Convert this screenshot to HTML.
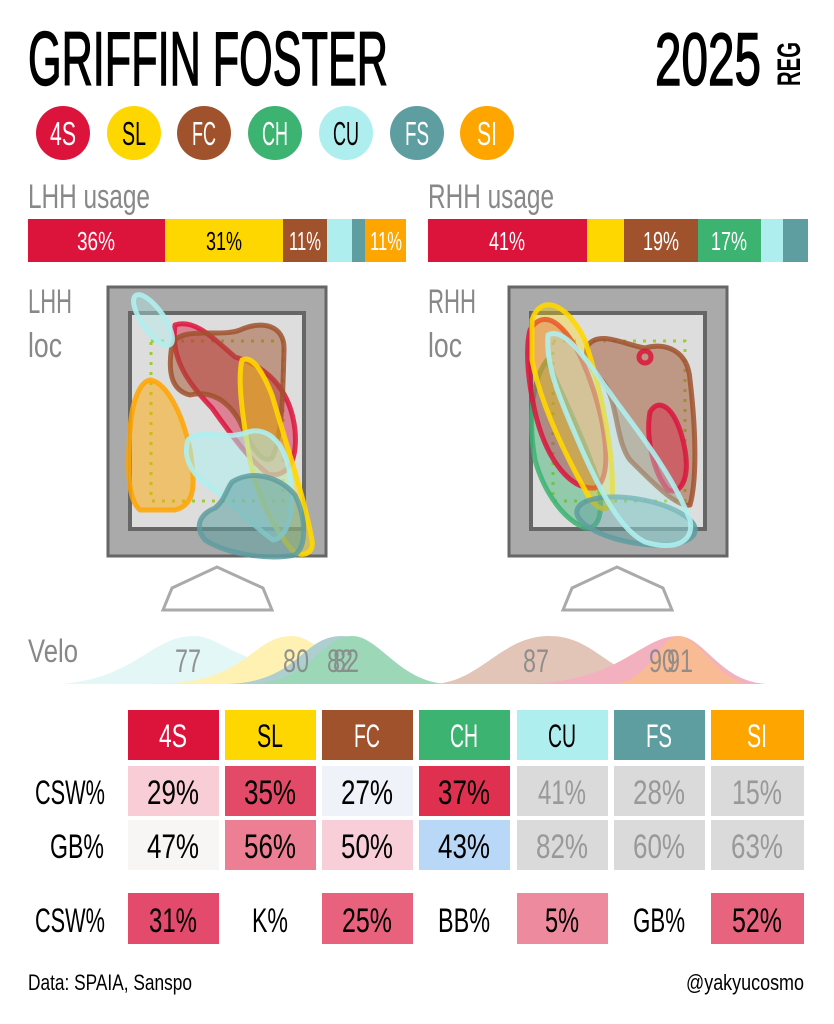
<!DOCTYPE html>
<html><head><meta charset="utf-8"><style>
html,body{margin:0;padding:0;background:#fff;}
svg{display:block;}
text{font-family:"Liberation Sans Narrow","Liberation Sans",sans-serif;}
</style></head><body>
<svg width="834" height="1024" viewBox="0 0 834 1024" xmlns="http://www.w3.org/2000/svg">
<rect width="834" height="1024" fill="#fff"/>
<!-- title -->
<text x="28" y="85" font-size="76" textLength="360" lengthAdjust="spacingAndGlyphs" fill="#000" stroke="#000" stroke-width="1.5">GRIFFIN FOSTER</text>
<text x="655" y="85" font-size="74" textLength="106" lengthAdjust="spacingAndGlyphs" fill="#000" stroke="#000" stroke-width="1.5">2025</text>
<text transform="translate(800,86) rotate(-90)" x="0" y="0" font-size="32" font-weight="bold" textLength="44" lengthAdjust="spacingAndGlyphs" fill="#000">REG</text>
<!-- pitch circles -->
<g font-size="33" text-anchor="middle">
<circle cx="63" cy="133" r="27" fill="#dc143c"/><text x="63" y="145" fill="#fff" textLength="26" lengthAdjust="spacingAndGlyphs">4S</text>
<circle cx="134" cy="133" r="27" fill="#ffd700"/><text x="134" y="145" fill="#000" textLength="24" lengthAdjust="spacingAndGlyphs">SL</text>
<circle cx="204" cy="133" r="27" fill="#a0522d"/><text x="204" y="145" fill="#fff" textLength="24" lengthAdjust="spacingAndGlyphs">FC</text>
<circle cx="275" cy="133" r="27" fill="#3cb371"/><text x="275" y="145" fill="#fff" textLength="26" lengthAdjust="spacingAndGlyphs">CH</text>
<circle cx="346" cy="133" r="27" fill="#afeeee"/><text x="346" y="145" fill="#000" textLength="26" lengthAdjust="spacingAndGlyphs">CU</text>
<circle cx="417" cy="133" r="27" fill="#5f9ea0"/><text x="417" y="145" fill="#fff" textLength="24" lengthAdjust="spacingAndGlyphs">FS</text>
<circle cx="487" cy="133" r="27" fill="#ffa500"/><text x="487" y="145" fill="#fff" textLength="20" lengthAdjust="spacingAndGlyphs">SI</text>
</g>
<!-- usage -->
<text x="28" y="208" font-size="34" fill="#888" textLength="122" lengthAdjust="spacingAndGlyphs">LHH usage</text>
<text x="428" y="208" font-size="34" fill="#888" textLength="126" lengthAdjust="spacingAndGlyphs">RHH usage</text>
<rect x="28" y="219" width="137" height="43" fill="#dc143c"/>
<rect x="165" y="219" width="118" height="43" fill="#ffd700"/>
<rect x="283" y="219" width="44" height="43" fill="#a0522d"/>
<rect x="327" y="219" width="25" height="43" fill="#afeeee"/>
<rect x="352" y="219" width="13" height="43" fill="#5f9ea0"/>
<rect x="365" y="219" width="41" height="43" fill="#ffa500"/>
<rect x="428" y="219" width="159" height="43" fill="#dc143c"/>
<rect x="587" y="219" width="37" height="43" fill="#ffd700"/>
<rect x="624" y="219" width="74" height="43" fill="#a0522d"/>
<rect x="698" y="219" width="63" height="43" fill="#3cb371"/>
<rect x="761" y="219" width="22" height="43" fill="#afeeee"/>
<rect x="783" y="219" width="25" height="43" fill="#5f9ea0"/>
<g font-size="26" text-anchor="middle">
<text x="96" y="250" fill="#fff" textLength="38" lengthAdjust="spacingAndGlyphs">36%</text>
<text x="224" y="250" fill="#000" textLength="36" lengthAdjust="spacingAndGlyphs">31%</text>
<text x="305" y="250" fill="#fff" textLength="32" lengthAdjust="spacingAndGlyphs">11%</text>
<text x="386" y="250" fill="#fff" textLength="32" lengthAdjust="spacingAndGlyphs">11%</text>
<text x="507" y="250" fill="#fff" textLength="36" lengthAdjust="spacingAndGlyphs">41%</text>
<text x="661" y="250" fill="#fff" textLength="36" lengthAdjust="spacingAndGlyphs">19%</text>
<text x="729" y="250" fill="#fff" textLength="36" lengthAdjust="spacingAndGlyphs">17%</text>
</g>
<!-- loc labels -->
<g font-size="34" fill="#888">
<text x="28" y="313" textLength="44" lengthAdjust="spacingAndGlyphs">LHH</text>
<text x="28" y="357" textLength="34" lengthAdjust="spacingAndGlyphs">loc</text>
<text x="428" y="313" textLength="48" lengthAdjust="spacingAndGlyphs">RHH</text>
<text x="428" y="357" textLength="34" lengthAdjust="spacingAndGlyphs">loc</text>
</g>
<!-- LHH box -->
<rect x="108" y="287" width="218" height="269" fill="#aaa" stroke="#666" stroke-width="3"/>
<rect x="130" y="313" width="174" height="216" fill="#ddd" stroke="#666" stroke-width="4"/>
<rect x="151" y="341" width="132" height="160" fill="none" stroke="#9acd32" stroke-width="3" stroke-dasharray="3,7"/>
<g stroke-width="5" stroke-linejoin="round">
<path d="M150,380 C165,382 182,410 190,450 C196,485 195,505 175,510 L140,510 C128,500 127,470 130,430 C132,400 140,382 150,380Z" fill="rgba(255,165,0,0.5)" stroke="rgba(255,165,0,0.85)"/>
<path d="M175,325 C195,318 215,340 235,357 C262,365 290,385 295,430 C298,465 285,478 268,474 C250,460 235,440 212,408 C190,385 170,360 175,325Z" fill="rgba(220,20,60,0.45)" stroke="rgba(220,20,60,0.85)"/>
<path d="M172,345 C180,325 220,338 240,330 C262,320 285,325 284,350 C283,390 282,440 272,458 C262,465 250,445 240,422 C228,400 210,390 190,395 C170,390 168,370 172,345Z" fill="rgba(160,82,45,0.5)" stroke="rgba(160,82,45,0.85)"/>
<path d="M242,360 C252,355 262,370 272,395 C285,440 305,500 312,540 C315,555 300,558 292,550 C275,530 258,500 250,460 C243,420 237,380 242,360Z" fill="rgba(255,215,0,0.4)" stroke="rgba(255,215,0,0.9)"/>
<path d="M188,440 C200,428 225,440 245,433 C265,425 285,440 290,475 C295,510 288,538 273,540 C255,528 230,500 205,483 C190,472 183,455 188,440Z" fill="rgba(175,238,238,0.55)" stroke="rgba(175,238,238,0.9)"/>
<path d="M232,482 C250,470 278,475 295,495 C305,515 308,545 295,555 C270,560 228,555 205,540 C195,528 198,515 215,508 C225,500 226,490 232,482Z" fill="rgba(95,158,160,0.55)" stroke="rgba(95,158,160,0.85)"/>
<ellipse cx="153" cy="320" rx="11" ry="30" transform="rotate(-35 153 320)" fill="rgba(175,238,238,0.4)" stroke="rgba(175,238,238,0.9)"/>
</g>
<!-- RHH box -->
<rect x="509" y="287" width="218" height="269" fill="#aaa" stroke="#666" stroke-width="3"/>
<rect x="531" y="313" width="174" height="216" fill="#ddd" stroke="#666" stroke-width="4"/>
<rect x="553" y="341" width="132" height="160" fill="none" stroke="#9acd32" stroke-width="3" stroke-dasharray="3,7"/>
<g stroke-width="5" stroke-linejoin="round">
<path d="M588,345 C600,330 625,345 645,348 C665,342 688,350 690,380 C696,430 697,480 690,505 C678,508 655,485 630,460 C615,440 618,400 603,382 C592,370 583,358 588,345Z" fill="rgba(160,82,45,0.5)" stroke="rgba(160,82,45,0.85)"/>
<path d="M650,412 C660,395 678,410 685,450 C690,480 680,495 668,490 C655,475 645,440 650,412Z" fill="rgba(220,20,60,0.4)" stroke="rgba(220,20,60,0.85)"/>
<circle cx="645" cy="357" r="6" fill="none" stroke="rgba(220,20,60,0.85)"/>
<path d="M547,360 C560,390 580,430 598,480 C604,510 600,530 585,528 C565,520 545,495 535,460 C528,420 532,380 547,360Z" fill="rgba(60,179,113,0.45)" stroke="rgba(60,179,113,0.85)"/>
<path d="M530,330 C545,305 570,325 590,380 C608,430 612,480 595,488 C570,490 548,460 537,420 C528,385 525,350 530,330Z" fill="rgba(220,20,60,0.35)" stroke="rgba(220,20,60,0.85)"/>
<path d="M532,320 C540,295 565,300 585,340 C603,395 615,460 612,500 C608,515 595,510 585,490 C560,445 540,400 532,360Z" fill="rgba(255,215,0,0.35)" stroke="rgba(255,215,0,0.9)"/>
<ellipse cx="636" cy="521" rx="60" ry="22" transform="rotate(10 636 521)" fill="rgba(95,158,160,0.45)" stroke="rgba(95,158,160,0.85)"/>
<path d="M548,335 C565,325 590,365 615,400 C645,440 675,480 690,520 C695,545 670,550 645,542 C620,530 600,490 582,450 C565,410 545,370 548,335Z" fill="rgba(175,238,238,0.35)" stroke="rgba(175,238,238,0.9)"/>
</g>
<!-- plates -->
<polygon points="163,610 272,610 263,588 217,567 172,588" fill="none" stroke="#aaa" stroke-width="3"/>
<polygon points="563,610 672,610 663,588 617,567 572,588" fill="none" stroke="#aaa" stroke-width="3"/>
<!-- velo -->
<text x="28" y="662" font-size="32" fill="#888" textLength="50" lengthAdjust="spacingAndGlyphs">Velo</text>
<g opacity="0.5">
<path d="M63,684 C140,676 150,636 195,636 C225,636 250,684 420,684Z" fill="#c8f0f0"/>
<path d="M153,684 C250,684 250,636 292,636 C320,636 340,684 430,684Z" fill="#ffe566"/>
<path d="M222,684 C300,684 300,636 342,636 C380,636 400,684 450,684Z" fill="#5f9ea0"/>
<path d="M248,684 C310,684 320,636 352,636 C380,636 400,684 450,684Z" fill="#3cb371"/>
<path d="M430,684 C480,684 500,636 549,636 C600,636 610,684 680,684Z" fill="#c98d73"/>
<path d="M520,684 C620,684 640,636 678,636 C705,636 720,684 770,684Z" fill="#e8637f"/>
<path d="M610,684 C650,684 660,636 678,636 C700,636 720,684 750,684Z" fill="#f47a2a"/>
</g>
<g font-size="32" fill="#888" text-anchor="middle" opacity="0.9">
<text x="188" y="672" textLength="26" lengthAdjust="spacingAndGlyphs">77</text>
<text x="296" y="672" textLength="26" lengthAdjust="spacingAndGlyphs">80</text>
<text x="340" y="672" textLength="26" lengthAdjust="spacingAndGlyphs">82</text>
<text x="346" y="672" textLength="26" lengthAdjust="spacingAndGlyphs">82</text>
<text x="536" y="672" textLength="26" lengthAdjust="spacingAndGlyphs">87</text>
<text x="662" y="672" textLength="26" lengthAdjust="spacingAndGlyphs">90</text>
<text x="680" y="672" textLength="26" lengthAdjust="spacingAndGlyphs">91</text>
</g>
<!-- table header -->
<g font-size="32" text-anchor="middle">
<rect x="128" y="710" width="91" height="50" fill="#dc143c"/><text x="173" y="747" fill="#fff" textLength="28" lengthAdjust="spacingAndGlyphs">4S</text>
<rect x="225" y="710" width="91" height="50" fill="#ffd700"/><text x="270" y="747" fill="#000" textLength="26" lengthAdjust="spacingAndGlyphs">SL</text>
<rect x="322" y="710" width="91" height="50" fill="#a0522d"/><text x="367" y="747" fill="#fff" textLength="26" lengthAdjust="spacingAndGlyphs">FC</text>
<rect x="419" y="710" width="91" height="50" fill="#3cb371"/><text x="464" y="747" fill="#fff" textLength="28" lengthAdjust="spacingAndGlyphs">CH</text>
<rect x="517" y="710" width="91" height="50" fill="#afeeee"/><text x="562" y="747" fill="#000" textLength="28" lengthAdjust="spacingAndGlyphs">CU</text>
<rect x="614" y="710" width="91" height="50" fill="#5f9ea0"/><text x="659" y="747" fill="#fff" textLength="26" lengthAdjust="spacingAndGlyphs">FS</text>
<rect x="711" y="710" width="93" height="50" fill="#ffa500"/><text x="757" y="747" fill="#fff" textLength="20" lengthAdjust="spacingAndGlyphs">SI</text>
</g>
<g font-size="34" text-anchor="middle">
<text x="70" y="804" fill="#000" textLength="70" lengthAdjust="spacingAndGlyphs">CSW%</text>
<rect x="128" y="766" width="91" height="50" fill="#f8cdd6"/><text x="173" y="804" textLength="52" lengthAdjust="spacingAndGlyphs">29%</text>
<rect x="225" y="766" width="91" height="50" fill="#e34a68"/><text x="270" y="804" textLength="52" lengthAdjust="spacingAndGlyphs">35%</text>
<rect x="322" y="766" width="91" height="50" fill="#eff2f9"/><text x="367" y="804" textLength="52" lengthAdjust="spacingAndGlyphs">27%</text>
<rect x="419" y="766" width="91" height="50" fill="#e03050"/><text x="464" y="804" textLength="52" lengthAdjust="spacingAndGlyphs">37%</text>
<rect x="517" y="766" width="91" height="50" fill="#dadada"/><text x="562" y="804" fill="#999" textLength="48" lengthAdjust="spacingAndGlyphs">41%</text>
<rect x="614" y="766" width="91" height="50" fill="#dadada"/><text x="659" y="804" fill="#999" textLength="52" lengthAdjust="spacingAndGlyphs">28%</text>
<rect x="711" y="766" width="93" height="50" fill="#dadada"/><text x="757" y="804" fill="#999" textLength="50" lengthAdjust="spacingAndGlyphs">15%</text>

<text x="77" y="858" fill="#000" textLength="54" lengthAdjust="spacingAndGlyphs">GB%</text>
<rect x="128" y="820" width="91" height="50" fill="#f7f6f4"/><text x="173" y="858" textLength="52" lengthAdjust="spacingAndGlyphs">47%</text>
<rect x="225" y="820" width="91" height="50" fill="#ec7f93"/><text x="270" y="858" textLength="52" lengthAdjust="spacingAndGlyphs">56%</text>
<rect x="322" y="820" width="91" height="50" fill="#f8cfd8"/><text x="367" y="858" textLength="52" lengthAdjust="spacingAndGlyphs">50%</text>
<rect x="419" y="820" width="91" height="50" fill="#b9d7f7"/><text x="464" y="858" textLength="52" lengthAdjust="spacingAndGlyphs">43%</text>
<rect x="517" y="820" width="91" height="50" fill="#dadada"/><text x="562" y="858" fill="#999" textLength="52" lengthAdjust="spacingAndGlyphs">82%</text>
<rect x="614" y="820" width="91" height="50" fill="#dadada"/><text x="659" y="858" fill="#999" textLength="52" lengthAdjust="spacingAndGlyphs">60%</text>
<rect x="711" y="820" width="93" height="50" fill="#dadada"/><text x="757" y="858" fill="#999" textLength="52" lengthAdjust="spacingAndGlyphs">63%</text>

<text x="70" y="932" fill="#000" textLength="70" lengthAdjust="spacingAndGlyphs">CSW%</text>
<rect x="128" y="893" width="91" height="51" fill="#e34a6b"/><text x="173" y="932" textLength="48" lengthAdjust="spacingAndGlyphs">31%</text>
<text x="270" y="932" textLength="36" lengthAdjust="spacingAndGlyphs">K%</text>
<rect x="322" y="893" width="91" height="51" fill="#e8627d"/><text x="367" y="932" textLength="50" lengthAdjust="spacingAndGlyphs">25%</text>
<text x="464" y="932" textLength="52" lengthAdjust="spacingAndGlyphs">BB%</text>
<rect x="517" y="893" width="91" height="51" fill="#ee8a9e"/><text x="562" y="932" textLength="34" lengthAdjust="spacingAndGlyphs">5%</text>
<text x="659" y="932" textLength="52" lengthAdjust="spacingAndGlyphs">GB%</text>
<rect x="711" y="893" width="93" height="51" fill="#e8637e"/><text x="757" y="932" textLength="50" lengthAdjust="spacingAndGlyphs">52%</text>
</g>
<text x="28" y="990" font-size="22" fill="#000" textLength="164" lengthAdjust="spacingAndGlyphs">Data: SPAIA, Sanspo</text>
<text x="804" y="990" font-size="22" fill="#000" text-anchor="end" textLength="118" lengthAdjust="spacingAndGlyphs">@yakyucosmo</text>
</svg>
</body></html>
